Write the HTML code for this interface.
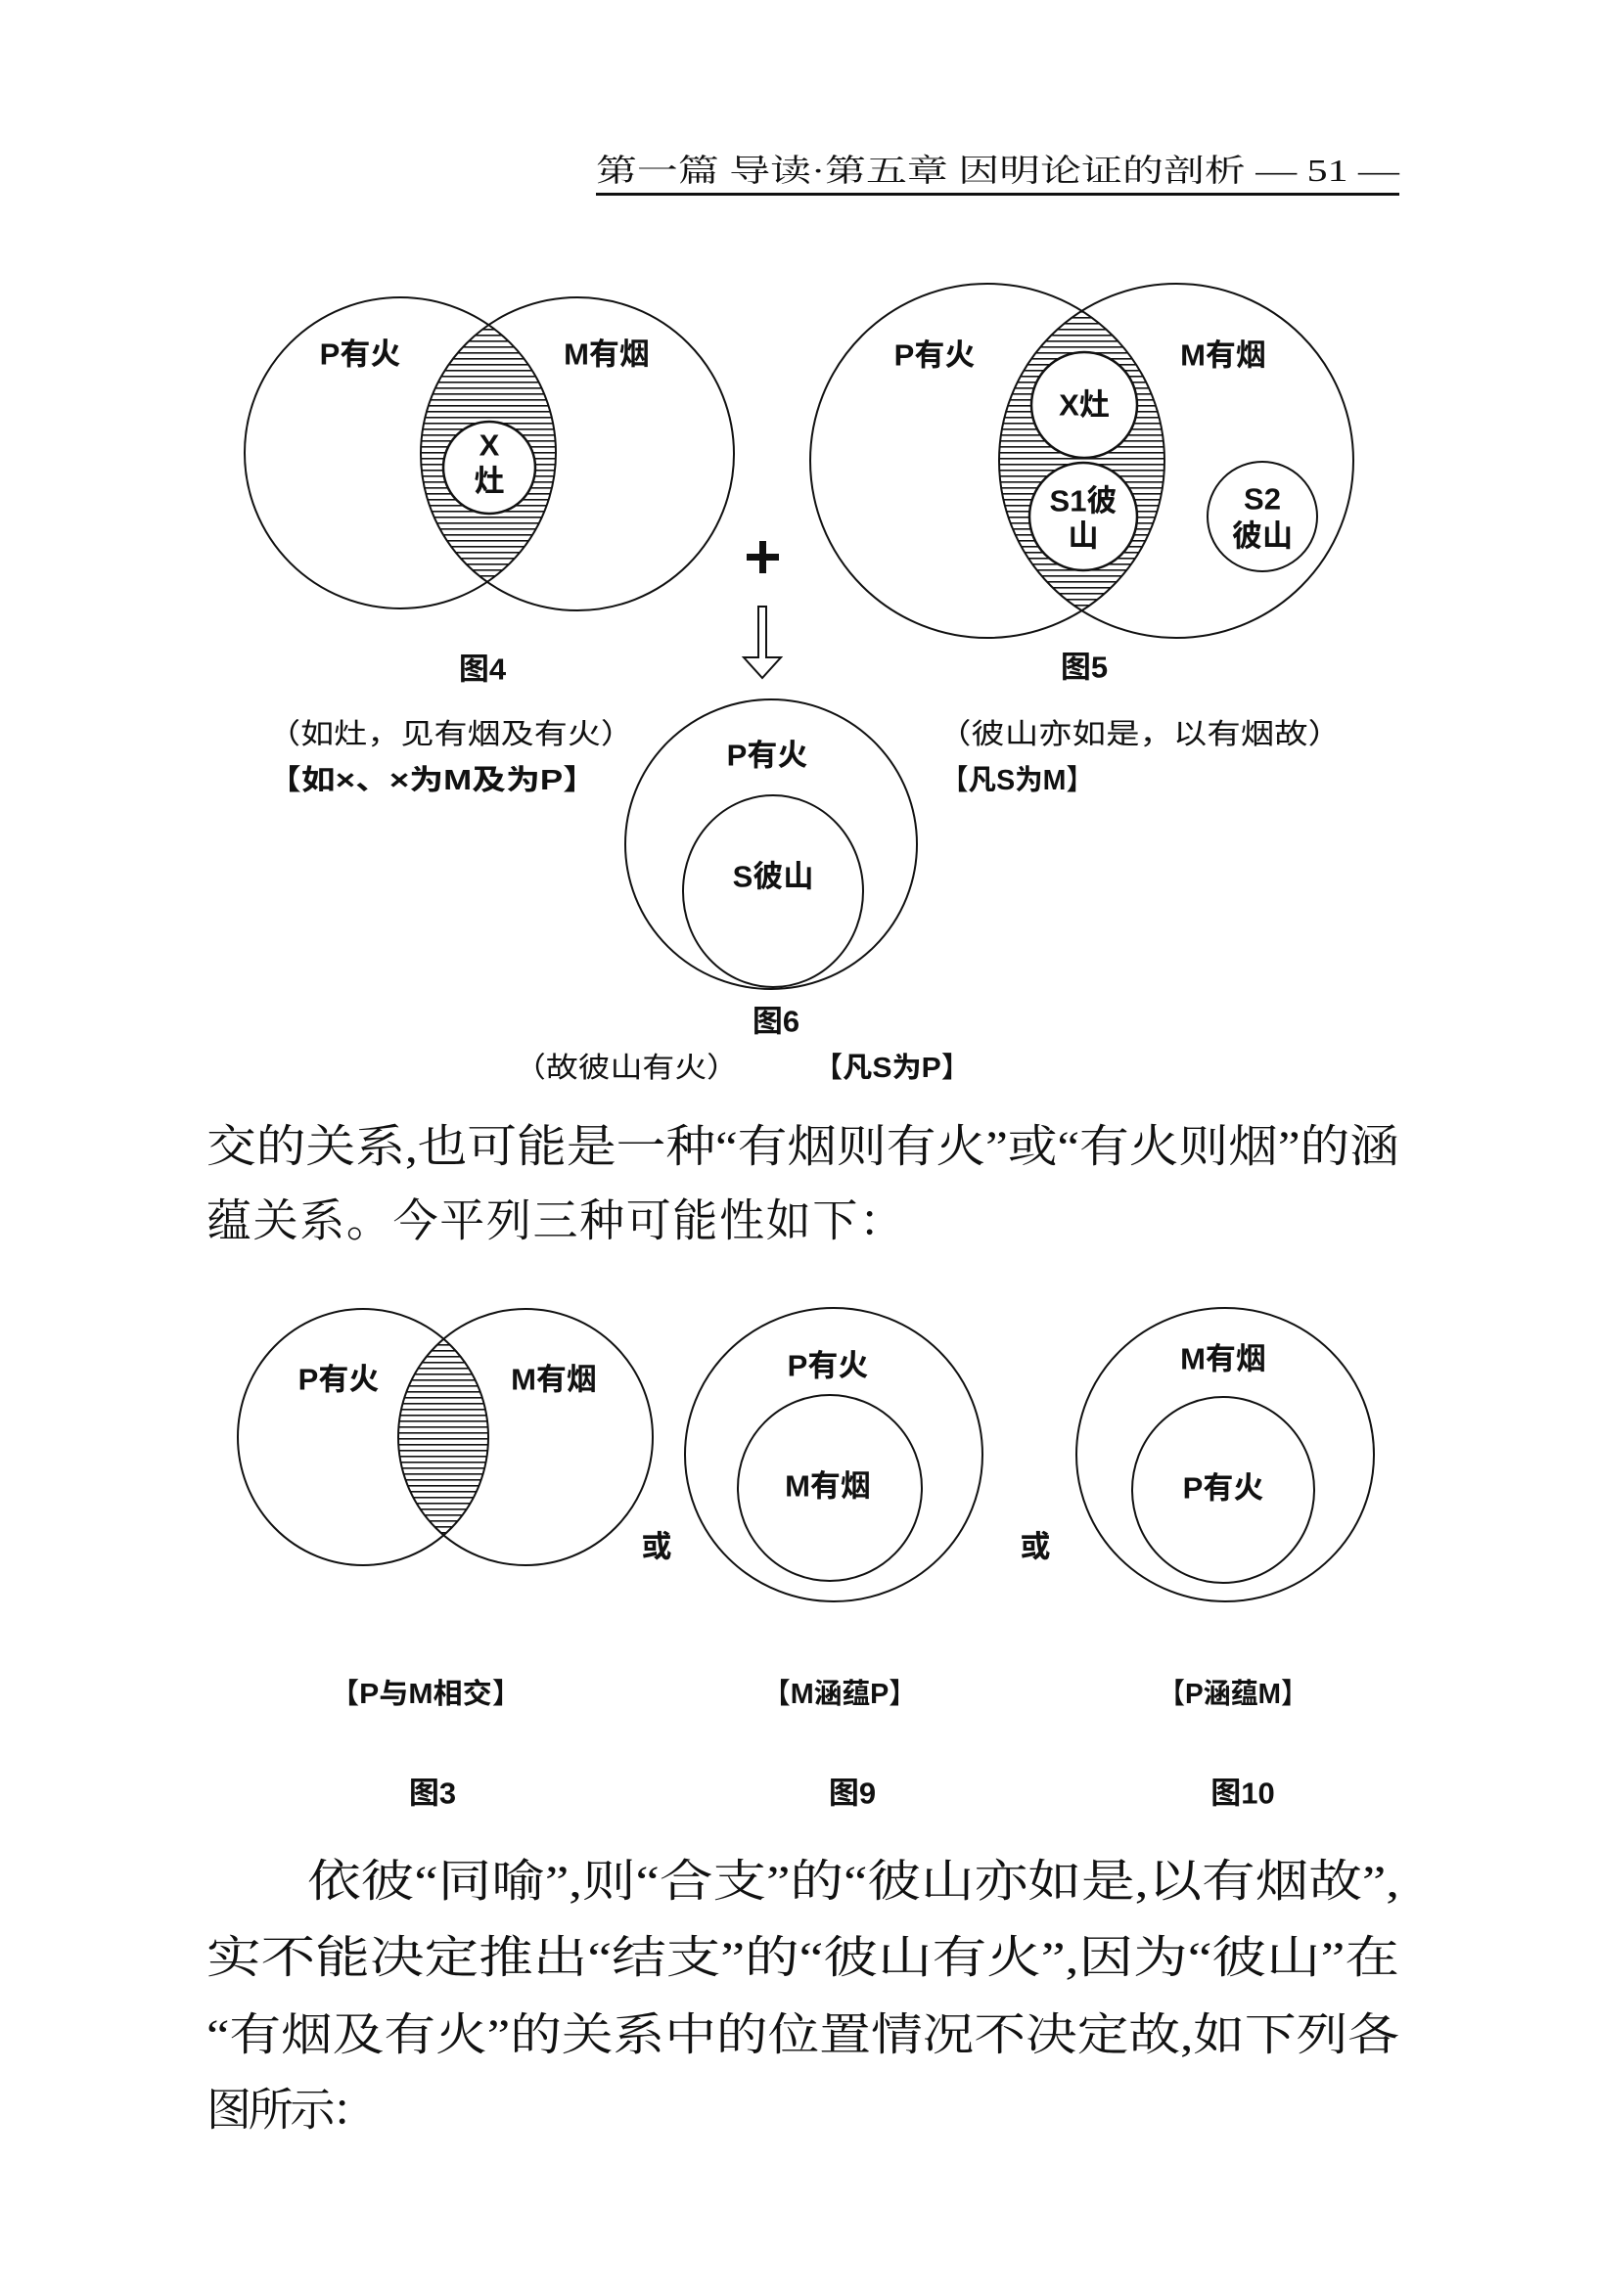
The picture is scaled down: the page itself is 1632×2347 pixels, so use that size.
<!DOCTYPE html>
<html><head><meta charset="utf-8"><style>
html,body{margin:0;padding:0;background:#fff;}
svg{display:block;}
.s{font-family:"Liberation Sans","Noto Sans CJK SC",sans-serif;font-weight:bold;fill:#111;}
.r{font-family:"Liberation Serif","Noto Serif CJK SC",serif;fill:#111;}
</style></head><body>
<svg width="1632" height="2347" viewBox="0 0 1632 2347" xmlns="http://www.w3.org/2000/svg">
<defs>
<pattern id="h" width="10" height="6" patternUnits="userSpaceOnUse"><rect x="0" y="0" width="10" height="1.6" fill="#111"/></pattern>
<clipPath id="c4a"><circle cx="409" cy="463" r="159"/></clipPath>
<clipPath id="c4b"><circle cx="590" cy="464" r="160"/></clipPath>
<clipPath id="c5a"><circle cx="1009" cy="471" r="181"/></clipPath>
<clipPath id="c5b"><circle cx="1202" cy="471" r="181"/></clipPath>
<clipPath id="c3a"><ellipse cx="371" cy="1469" rx="128" ry="131"/></clipPath>
<clipPath id="c3b"><ellipse cx="537" cy="1469" rx="130" ry="131"/></clipPath>
</defs>

<text class="r" x="609" y="174" font-size="32" dominant-baseline="central" textLength="821" lengthAdjust="spacingAndGlyphs">第一篇  导读·第五章  因明论证的剖析  —  51  —</text>
<rect x="609" y="197" width="821" height="3" fill="#111"/>

<g fill="none" stroke="#111" stroke-width="2">
<g clip-path="url(#c4a)"><g clip-path="url(#c4b)"><rect x="400" y="290" width="200" height="350" fill="url(#h)" stroke="none"/></g></g>
<circle cx="409" cy="463" r="159"/>
<circle cx="590" cy="464" r="160"/>
<circle cx="500" cy="478" r="47" fill="#fff" stroke-width="2.5"/>
<g clip-path="url(#c5a)"><g clip-path="url(#c5b)"><rect x="1000" y="280" width="220" height="380" fill="url(#h)" stroke="none"/></g></g>
<circle cx="1009" cy="471" r="181"/>
<circle cx="1202" cy="471" r="181"/>
<circle cx="1108" cy="414" r="54" fill="#fff" stroke-width="2.5"/>
<circle cx="1107" cy="528" r="55" fill="#fff" stroke-width="2.5"/>
<circle cx="1290" cy="528" r="56" fill="#fff"/>
<ellipse cx="788" cy="863" rx="149" ry="148"/>
<ellipse cx="790" cy="911" rx="92" ry="98"/>
<polygon points="775,620 783,620 783,672 798,672 779,693 760,672 775,672" stroke-width="2"/>
<g clip-path="url(#c3a)"><g clip-path="url(#c3b)"><rect x="400" y="1330" width="110" height="280" fill="url(#h)" stroke="none"/></g></g>
<ellipse cx="371" cy="1469" rx="128" ry="131"/>
<ellipse cx="537" cy="1469" rx="130" ry="131"/>
<ellipse cx="852" cy="1487" rx="152" ry="150"/>
<ellipse cx="848" cy="1521" rx="94" ry="95"/>
<ellipse cx="1252" cy="1487" rx="152" ry="150"/>
<ellipse cx="1250" cy="1523" rx="93" ry="95"/>
</g>
<rect x="763" y="566" width="33" height="7" fill="#111"/>
<rect x="776" y="553" width="7" height="33" fill="#111"/>

<g class="s" font-size="31" dominant-baseline="central" text-anchor="middle">
<text x="368" y="362">P有火</text>
<text x="620" y="362">M有烟</text>
<text x="500" y="455">X</text>
<text x="500" y="492">灶</text>
<text x="955" y="363">P有火</text>
<text x="1250" y="363">M有烟</text>
<text x="1108" y="414">X灶</text>
<text x="1107" y="512">S1彼</text>
<text x="1107" y="548">山</text>
<text x="1290" y="510">S2</text>
<text x="1290" y="548">彼山</text>
<text x="493" y="684">图4</text>
<text x="1108" y="682">图5</text>
<text x="784" y="772">P有火</text>
<text x="790" y="896">S彼山</text>
<text x="793" y="1044">图6</text>
<text x="346" y="1410">P有火</text>
<text x="566" y="1410">M有烟</text>
<text x="846" y="1396">P有火</text>
<text x="846" y="1519">M有烟</text>
<text x="1250" y="1389">M有烟</text>
<text x="1250" y="1521">P有火</text>
<text x="671" y="1581">或</text>
<text x="1058" y="1581">或</text>
<text x="442" y="1833">图3</text>
<text x="871" y="1833">图9</text>
<text x="1270" y="1833">图10</text>
</g>
<g class="s" font-size="29" dominant-baseline="central">
<text x="273" y="751" textLength="375" lengthAdjust="spacingAndGlyphs" font-weight="normal">（如灶，见有烟及有火）</text>
<text x="273" y="798" textLength="337" lengthAdjust="spacingAndGlyphs">【如×、×为M及为P】</text>
<text x="958" y="751" textLength="413" lengthAdjust="spacingAndGlyphs" font-weight="normal">（彼山亦如是，以有烟故）</text>
<text x="961" y="798" textLength="157" lengthAdjust="spacingAndGlyphs">【凡S为M】</text>
<text x="525" y="1092" textLength="230" lengthAdjust="spacingAndGlyphs" font-weight="normal">（故彼山有火）</text>
<text x="831" y="1092" textLength="161" lengthAdjust="spacingAndGlyphs">【凡S为P】</text>
<text x="337" y="1732" textLength="196" lengthAdjust="spacingAndGlyphs">【P与M相交】</text>
<text x="779" y="1732" textLength="158" lengthAdjust="spacingAndGlyphs">【M涵蕴P】</text>
<text x="1183" y="1732" textLength="154" lengthAdjust="spacingAndGlyphs">【P涵蕴M】</text>
</g>

<g class="r" font-size="46" dominant-baseline="central">
<text x="211" y="1172" textLength="1219" lengthAdjust="spacingAndGlyphs">交的关系,也可能是一种“有烟则有火”或“有火则烟”的涵</text>
<text x="211" y="1248" textLength="713" lengthAdjust="spacing">蕴关系。今平列三种可能性如下：</text>
<text x="314" y="1923" textLength="1116" lengthAdjust="spacingAndGlyphs">依彼“同喻”,则“合支”的“彼山亦如是,以有烟故”,</text>
<text x="211" y="2001" textLength="1219" lengthAdjust="spacingAndGlyphs">实不能决定推出“结支”的“彼山有火”,因为“彼山”在</text>
<text x="211" y="2080" textLength="1219" lengthAdjust="spacingAndGlyphs">“有烟及有火”的关系中的位置情况不决定故,如下列各</text>
<text x="211" y="2157" textLength="174" lengthAdjust="spacing">图所示：</text>
</g>
</svg>
</body></html>
